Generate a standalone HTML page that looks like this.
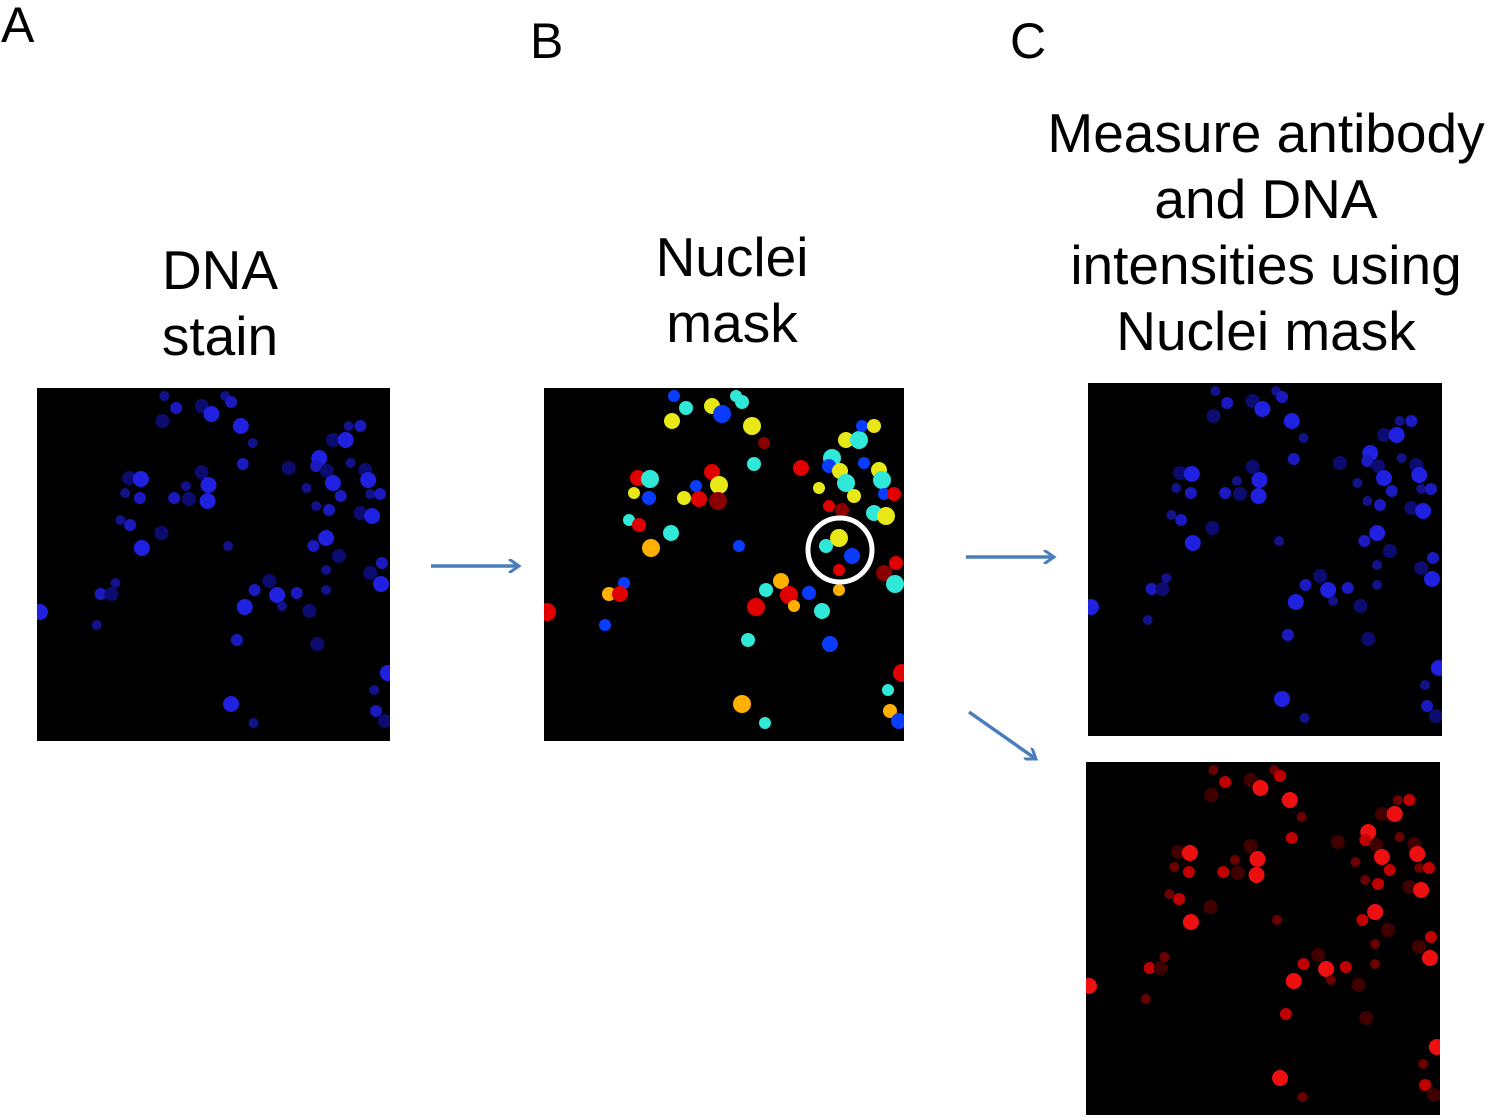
<!DOCTYPE html>
<html><head><meta charset="utf-8"><style>
body{margin:0;background:#fff;width:1487px;height:1117px;position:relative;overflow:hidden;font-family:"Liberation Sans",sans-serif}
.t{position:absolute;font-size:55px;line-height:66px;text-align:center;color:#000;white-space:nowrap}
.l{position:absolute;font-size:50px;line-height:50px}
svg{position:absolute;left:0;top:0}
</style></head><body>
<div class="l" style="left:1px;top:0">A</div>
<div class="l" style="left:530px;top:16px">B</div>
<div class="l" style="left:1010px;top:16px">C</div>
<div class="t" style="left:60px;width:320px;top:237px">DNA<br>stain</div>
<div class="t" style="left:572px;width:320px;top:224px">Nuclei<br>mask</div>
<div class="t" style="left:1016px;width:500px;top:100px">Measure antibody<br>and DNA<br>intensities using<br>Nuclei mask</div>
<svg width="1487" height="1117" id="s">
<defs><marker id="ar" markerWidth="14" markerHeight="14" refX="11" refY="7" orient="auto" markerUnits="userSpaceOnUse"><path d="M1,0 L11,7 L1,14" fill="none" stroke="#4a7ebb" stroke-width="3"/></marker>
<clipPath id="kA"><rect x="37" y="388" width="353" height="353"/></clipPath>
<clipPath id="kB"><rect x="544" y="388" width="360" height="353"/></clipPath>
<clipPath id="kC1"><rect x="1088" y="383" width="354" height="353"/></clipPath>
<clipPath id="kC2"><rect x="1086" y="762" width="354" height="353"/></clipPath>
</defs>
<rect x="37" y="388" width="353" height="353" fill="#000"/>
<rect x="544" y="388" width="360" height="353" fill="#000"/>
<rect x="1088" y="383" width="354" height="353" fill="#000"/>
<rect x="1086" y="762" width="354" height="353" fill="#000"/>
<g id="A" clip-path="url(#kA)"></g><g id="B" clip-path="url(#kB)"></g><g id="C1" clip-path="url(#kC1)"></g><g id="C2" clip-path="url(#kC2)"></g>
<circle cx="840" cy="550" r="32" fill="none" stroke="#fff" stroke-width="5"/>
<line x1="431" y1="566" x2="519" y2="566" stroke="#4a7ebb" stroke-width="3.5" marker-end="url(#ar)"/>
<line x1="966" y1="557" x2="1054" y2="557" stroke="#4a7ebb" stroke-width="3.5" marker-end="url(#ar)"/>
<line x1="969" y1="712" x2="1036" y2="759" stroke="#4a7ebb" stroke-width="3.5" marker-end="url(#ar)"/>
</svg>
<script>
var P=[[130,8,'b'],[142,20,'c'],[168,18,'y'],[178,26,'b'],[192,8,'c'],[198,14,'c'],[128,33,'y'],[208,38,'y'],[220,55,'d'],[210,76,'c'],[257,80,'r'],[288,70,'c'],[320,75,'b'],[285,78,'b'],[296,83,'y'],[302,95,'c'],[275,100,'y'],[310,108,'y'],[302,52,'y'],[315,52,'c'],[318,38,'b'],[330,38,'y'],[335,82,'y'],[338,92,'c'],[340,106,'b'],[350,106,'r'],[330,125,'c'],[342,128,'y'],[285,118,'r'],[298,122,'d'],[94,90,'r'],[106,91,'c'],[90,105,'y'],[105,110,'b'],[168,84,'r'],[175,97,'y'],[152,98,'b'],[140,110,'y'],[155,111,'r'],[174,113,'d'],[85,132,'c'],[95,137,'r'],[127,145,'c'],[107,160,'o'],[195,158,'b'],[282,158,'c'],[308,168,'b'],[295,150,'y'],[295,182,'r'],[352,175,'r'],[340,185,'d'],[351,196,'c'],[295,202,'o'],[222,202,'c'],[237,193,'o'],[245,207,'r'],[250,218,'o'],[265,205,'b'],[278,223,'c'],[212,219,'r'],[80,195,'b'],[65,206,'o'],[76,206,'r'],[3,224,'r'],[61,237,'b'],[204,252,'c'],[286,256,'b'],[358,285,'r'],[344,302,'c'],[346,323,'o'],[355,333,'b'],[198,316,'o'],[221,335,'c']];
var C={b:'#0a3cff',c:'#30e8d8',y:'#e8e818',d:'#8a0000',r:'#e00000',o:'#ffb000'};
var ns='http://www.w3.org/2000/svg';
function add(g,x,y,r,f){var c=document.createElementNS(ns,'circle');c.setAttribute('cx',x);c.setAttribute('cy',y);c.setAttribute('r',r);c.setAttribute('fill',f);document.getElementById(g).appendChild(c);}
P.forEach(function(p,i){var r=6+(i%4);
add('B',544+p[0],388+p[1],r,C[p[2]]);
var br=['#12128a','#1a1ac0','#0c0c70','#2020e0'][i%4];
add('A',37+p[0]*0.98,388+p[1],r-1,br);
add('C1',1088+p[0]*0.98,383+p[1],r-1,br);
var rr=['#6a0000','#c00000','#400000','#ee1010'][i%4];
add('C2',1086+p[0]*0.98,762+p[1],r-1,rr);
});
</script>
</body></html>
